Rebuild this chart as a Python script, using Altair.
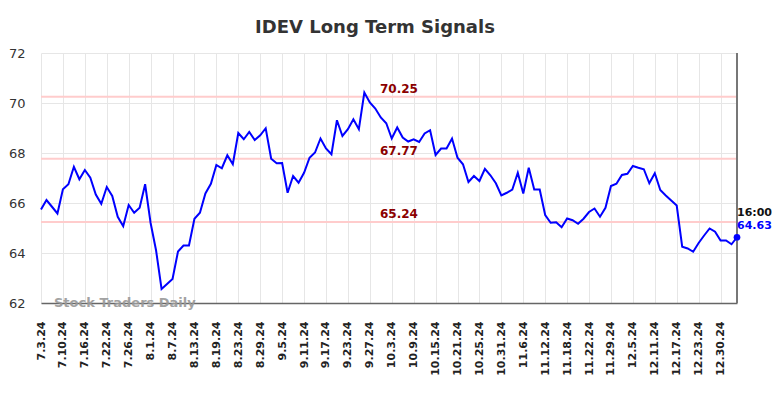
import altair as alt
import pandas as pd

# --- data ---
values = [
    65.74, 66.12, 65.85, 65.58, 66.55, 66.75, 67.45, 66.95, 67.32, 67.01,
    66.34, 65.97, 66.64, 66.28, 65.45, 65.07, 65.92, 65.61, 65.81, 66.75,
    65.20, 64.10, 62.56, 62.76, 62.96, 64.06, 64.30, 64.30, 65.37, 65.61,
    66.38, 66.77, 67.52, 67.39, 67.91, 67.55, 68.80, 68.55, 68.84, 68.52,
    68.71, 68.99, 67.77, 67.59, 67.60, 66.41, 67.08, 66.81, 67.21, 67.81,
    68.02, 68.58, 68.18, 67.95, 69.31, 68.68, 68.95, 69.35, 68.95, 70.42,
    70.02, 69.78, 69.42, 69.19, 68.58, 69.02, 68.62, 68.46, 68.55, 68.44,
    68.78, 68.91, 67.92, 68.18, 68.18, 68.58, 67.81, 67.55, 66.84, 67.08,
    66.88, 67.37, 67.11, 66.79, 66.30, 66.41, 66.54, 67.21, 66.38, 67.41,
    66.54, 66.54, 65.52, 65.21, 65.23, 65.03, 65.38, 65.31, 65.17, 65.37,
    65.64, 65.78, 65.45, 65.81, 66.68, 66.77, 67.12, 67.17, 67.48, 67.41,
    67.35, 66.79, 67.19, 66.52, 66.30, 66.10, 65.90, 64.25, 64.18, 64.05,
    64.40, 64.70, 64.98, 64.85, 64.50, 64.50, 64.35, 64.63,
]
tick_labels = [
    "7.3.24", "7.10.24", "7.16.24", "7.22.24", "7.26.24", "8.1.24", "8.7.24",
    "8.13.24", "8.19.24", "8.23.24", "8.29.24", "9.5.24", "9.11.24", "9.17.24",
    "9.23.24", "9.27.24", "10.3.24", "10.9.24", "10.15.24", "10.21.24",
    "10.25.24", "10.31.24", "11.6.24", "11.12.24", "11.18.24", "11.22.24",
    "11.29.24", "12.5.24", "12.11.24", "12.17.24", "12.23.24", "12.30.24",
]
tick_step = 4
levels = [70.25, 67.77, 65.24]
last_time = "16:00"
title_text = "IDEV Long Term Signals"
watermark = "Stock Traders Daily"
y_ticks = [62, 64, 66, 68, 70, 72]

# --- tables ---
n = len(values)
df = pd.DataFrame({"i": list(range(n)), "v": values})
last = df.tail(1).copy()
last["t"] = last_time
last["lbl"] = last["v"].map(lambda v: f"{v:.2f}")
lev = pd.DataFrame({"level": levels, "label": [f"{l:.2f}" for l in levels]})

W, H = 696, 250
FONT = "DejaVu Sans"

xscale = alt.Scale(domain=[0, n - 1], nice=False, zero=False)
yscale = alt.Scale(domain=[min(y_ticks), max(y_ticks)], nice=False, zero=False)

label_arr = "[" + ",".join(f"'{t}'" for t in tick_labels) + "]"
xaxis = alt.Axis(
    values=[k * tick_step for k in range(len(tick_labels))],
    labelExpr=f"{label_arr}[round(datum.value/{tick_step})]",
    labelAngle=270, labelFontSize=11, labelFontWeight="bold",
    labelColor="#222", labelPadding=18, labelOverlap=False, labelFlush=False,
    labelBound=False,
    ticks=False, grid=True, gridColor="#e6e6e6", gridWidth=1,
    domainColor="#666", domainWidth=1.5, title=None,
)
yaxis = alt.Axis(
    values=y_ticks, labelFontSize=13, labelColor="#333", labelPadding=16,
    labelOverlap=False,
    ticks=False, domain=False, grid=True, gridColor="#e6e6e6", gridWidth=1,
    title=None,
)


def X(field):
    return alt.X(field, scale=xscale, axis=xaxis)


def Y(field):
    return alt.Y(field, scale=yscale, axis=yaxis)


rules = alt.Chart(lev).mark_rule(color="#ffcccc", strokeWidth=2).encode(y=Y("level:Q"))
line = alt.Chart(df).mark_line(color="#0000ff", strokeWidth=2).encode(x=X("i:Q"), y=Y("v:Q"))
lev_text = alt.Chart(lev).mark_text(
    color="#8b0000", fontWeight="bold", fontSize=12, dy=-8, baseline="middle"
).encode(x=alt.value(358), y=Y("level:Q"), text="label:N")
edge = alt.Chart(last).mark_rule(color="#777", strokeWidth=2).encode(
    x=X("i:Q"), y=alt.value(0), y2=alt.value(H)
)
dot = alt.Chart(last).mark_circle(size=45, color="#0000ff", opacity=1).encode(
    x=X("i:Q"), y=Y("v:Q")
)
time_txt = alt.Chart(last).mark_text(
    align="left", baseline="middle", dy=-24, fontSize=11, fontWeight="bold", color="#111"
).encode(x=X("i:Q"), y=Y("v:Q"), text="t:N")
val_txt = alt.Chart(last).mark_text(
    align="left", baseline="middle", dy=-11, fontSize=11, fontWeight="bold", color="#0000ff"
).encode(x=X("i:Q"), y=Y("v:Q"), text="lbl:N")
wm = alt.Chart(last).mark_text(
    align="left", baseline="middle", fontSize=13, fontWeight="bold",
    color="#999999", opacity=0.9,
).encode(x=alt.value(13), y=alt.value(H), text=alt.value(watermark))

chart = alt.layer(rules, line, lev_text, edge, dot, time_txt, val_txt, wm).properties(
    width=W, height=H,
    title=alt.TitleParams(title_text, fontSize=18, fontWeight="bold", color="#333",
                          anchor="middle", dx=-14, offset=10, font=FONT),
    autosize=alt.AutoSizeParams(type="none"),
    padding={"left": 33, "top": 45, "right": 35, "bottom": 80},
).configure(font=FONT).configure_view(stroke=None).configure_axis(labelOverlap=False)

chart.save("out.html", embed_options={"renderer": "svg", "actions": False})
